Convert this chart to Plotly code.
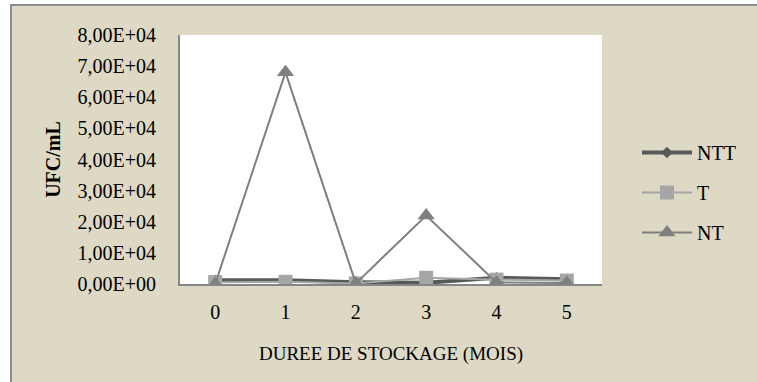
import plotly.graph_objects as go

# Storage duration (months) and colony counts (UFC/mL)
months = [0, 1, 2, 3, 4, 5]
ntt = [1200, 1200, 600, 400, 2000, 1500]
t_vals = [600, 700, 200, 2000, 1400, 1100]
nt = [0, 68000, 200, 22000, 500, 300]
y_ticks = [0, 10000, 20000, 30000, 40000, 50000, 60000, 70000, 80000]
y_tick_text = ["0,00E+00", "1,00E+04", "2,00E+04", "3,00E+04", "4,00E+04",
               "5,00E+04", "6,00E+04", "7,00E+04", "8,00E+04"]

W, H = 757, 382
L, R, T, B = 180, 155, 35, 98
pw, ph = W - L - R, H - T - B

serif = "Liberation Serif, Times New Roman, serif"

fig = go.Figure()
fig.add_trace(go.Scatter(
    x=months, y=ntt, name="NTT", mode="lines+markers", legendgroup="a",
    line=dict(color="#595959", width=4),
    marker=dict(symbol="diamond", size=9, color="#595959")))
fig.add_trace(go.Scatter(
    x=months, y=t_vals, name="T", mode="lines+markers", legendgroup="b",
    line=dict(color="#A6A6A6", width=2),
    marker=dict(symbol="square", size=14, color="#A6A6A6")))
fig.add_trace(go.Scatter(
    x=months, y=nt, name="NT", mode="lines+markers", legendgroup="c",
    line=dict(color="#7F7F7F", width=2),
    marker=dict(symbol="triangle-up", size=15, color="#7F7F7F")))

# beige chart frame, then white plotting area on top of it
x0 = (11 - L) / pw
y1 = (H - B - 5) / ph
shapes = [
    dict(type="rect", xref="paper", yref="paper", x0=x0, x1=(W + 10 - L) / pw,
         y0=-(B + 10) / ph, y1=y1, fillcolor="#DDD9C4",
         line=dict(color="#8C8C8C", width=2), layer="below"),
    dict(type="rect", xref="paper", yref="paper", x0=0, x1=1, y0=0, y1=1,
         fillcolor="white", line=dict(width=0), layer="below"),
]

fig.update_layout(
    width=W, height=H,
    margin=dict(l=L, r=R, t=T, b=B),
    paper_bgcolor="white", plot_bgcolor="rgba(0,0,0,0)",
    shapes=shapes,
    font=dict(family=serif, size=20, color="#000000"),
    showlegend=True,
    legend=dict(x=(637 - L) / pw, y=(H - B - 133) / ph, xanchor="left", yanchor="top",
                bgcolor="rgba(0,0,0,0)", font=dict(size=20, family=serif),
                traceorder="grouped", tracegroupgap=11, itemwidth=50),
    xaxis=dict(
        type="linear", range=[-0.5, 5.5], tickvals=months,
        ticktext=[str(m) for m in months], showgrid=False, zeroline=False,
        showline=True, linecolor="#868686", linewidth=2, ticks="",
        ticklabelstandoff=9,
        tickfont=dict(size=20, family=serif),
        title=dict(text="DUREE DE STOCKAGE (MOIS)", standoff=25,
                   font=dict(size=19, family=serif))),
    yaxis=dict(
        range=[0, 80000], tickvals=y_ticks, ticktext=y_tick_text,
        showgrid=False, zeroline=False, showline=True, linecolor="#868686",
        linewidth=2, ticks="", ticklabelstandoff=18,
        tickfont=dict(size=20, family=serif),
        title=dict(text="<b>UFC/mL</b>", standoff=12,
                   font=dict(size=20, family=serif))),
)

fig.write_html("out.html")
